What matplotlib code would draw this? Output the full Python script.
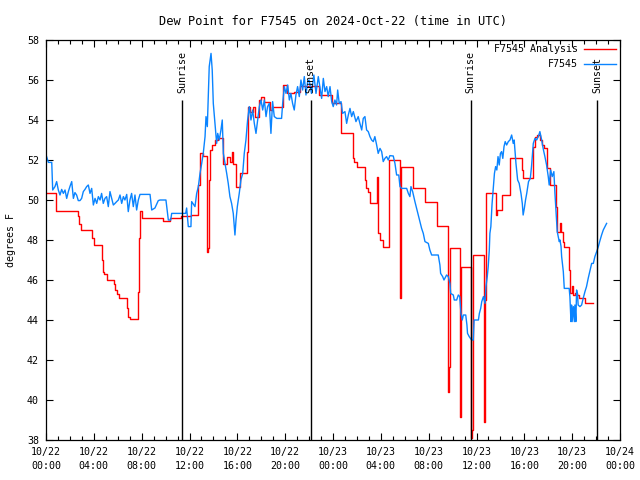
import pandas as pd
import matplotlib
matplotlib.use('Agg')
import matplotlib.pyplot as plt
import matplotlib.dates as mdates

plt.rcParams['font.family'] = ['DejaVu Sans Mono']
plt.rcParams['font.size'] = 7.2

day0 = pd.Timestamp('2024-10-22 00:00')

# F7545 Analysis: hours after 10/22 00:00 UTC, dew point (F)
anal_hours = [0.0, 0.8, 2.7, 2.8, 2.9, 3.85, 4.0, 4.72, 4.77, 4.85, 5.06, 5.69, 5.77, 5.94,
              6.1, 6.8, 6.88, 7.02, 7.73, 7.8, 7.88, 8.0, 9.8, 10.38, 11.3, 12.1, 12.74,
              12.88, 13.15, 13.44, 13.57, 13.65, 13.7, 13.85, 14.13, 14.4, 14.77, 14.83,
              15.1, 15.38, 15.53, 15.66, 15.86, 16.2, 16.78, 16.86, 16.9, 17.06, 17.28,
              17.47, 17.84, 17.95, 18.23, 18.73, 18.87, 19.84, 20.12, 20.7, 21.2, 22.85,
              23.9, 24.67, 25.7, 25.76, 25.98, 26.67, 26.76, 26.95, 27.1, 27.68, 27.73,
              27.78, 27.93, 28.15, 28.68, 29.6, 29.66, 30.7, 31.7, 32.7, 33.61, 33.7,
              33.82, 34.6, 34.67, 35.53, 35.62, 35.73, 36.62, 36.7, 36.79, 37.6, 37.75,
              38.1, 38.8, 39.78, 39.9, 40.75, 40.89, 41.05, 41.3, 41.44, 41.64, 41.86,
              42.14, 42.64, 42.7, 42.98, 43.05, 43.2, 43.34, 43.75, 43.81, 43.95, 44.03,
              44.23, 44.37, 44.59, 45.07, 45.71]
anal_dewp = [50.33, 49.47, 49.2, 48.8, 48.5, 48.1, 47.75, 47.0, 46.4, 46.3, 46.0, 45.8, 45.5, 45.3,
             45.08, 44.6, 44.17, 44.03, 45.4, 48.1, 49.47, 49.08, 48.97, 49.08, 49.2, 49.25, 50.75,
             52.37, 52.2, 47.4, 47.6, 51.0, 52.5, 52.75, 53.0, 53.08, 53.0, 51.8,
             52.17, 51.9, 52.4, 51.8, 50.67, 51.33, 52.42, 53.17, 54.67, 54.42, 54.67,
             54.17, 55.0, 55.17, 54.9, 54.5, 54.67, 55.75, 55.33, 55.42, 55.7, 55.25,
             54.83, 53.37, 52.08, 51.9, 51.67, 51.0, 50.6, 50.4, 49.83, 51.17, 51.0,
             48.35, 48.0, 47.67, 52.0, 45.1, 51.63, 50.62, 49.92, 48.7, 40.42, 41.67,
             47.58, 39.17, 46.67, 38.1, 38.5, 47.25, 38.9, 45.0, 50.37, 49.25, 49.5,
             50.25, 52.08, 51.5, 51.08, 52.67, 53.17, 53.25, 53.0, 52.75, 52.58, 51.58,
             50.75, 49.67, 48.42, 48.83, 48.42, 47.92, 47.67, 46.5, 45.33, 45.7, 45.25,
             45.33, 45.25, 45.08, 44.87, 44.87]

# F7545 observations
obs_hours = [0.05, 0.2, 0.48, 0.56, 0.75, 0.89, 1.03, 1.17, 1.31, 1.45, 1.59, 1.73, 1.87, 2.0,
             2.15, 2.29, 2.42, 2.56, 2.7, 2.84, 2.98, 3.12, 3.26, 3.4, 3.54, 3.68, 3.82, 3.96,
             4.1, 4.24, 4.38, 4.52, 4.65, 4.79, 4.93, 5.07, 5.21, 5.35, 5.49, 5.63, 5.77, 5.91,
             6.05, 6.19, 6.33, 6.47, 6.6, 6.75, 6.88, 7.02, 7.16, 7.3, 7.44, 7.58, 7.72, 7.86,
             8.7, 8.84, 9.11, 9.39, 9.53, 10.03, 10.23, 10.43, 10.51, 11.68, 11.76, 11.9, 12.12,
             12.18, 12.46, 12.6, 12.74, 12.88, 13.02, 13.15, 13.3, 13.38, 13.49, 13.57, 13.65,
             13.8, 13.9, 13.99, 14.13, 14.27, 14.36, 14.49, 14.63, 14.74, 14.83, 14.97, 15.11,
             15.24, 15.38, 15.52, 15.66, 15.8, 15.89, 16.0, 16.16, 16.3, 16.45, 16.58, 16.72,
             16.86, 17.0, 17.14, 17.28, 17.42, 17.56, 17.7, 17.84, 17.98, 18.12, 18.26, 18.4,
             18.53, 18.67, 18.81, 18.95, 19.09, 19.3, 19.7, 19.79, 19.93, 20.07, 20.21, 20.35,
             20.48, 20.62, 20.76, 20.9, 21.04, 21.18, 21.32, 21.46, 21.6, 21.74, 21.88, 22.0,
             22.2, 22.4, 22.58, 22.77, 22.9, 23.05, 23.19, 23.33, 23.47, 23.6, 23.75, 23.89,
             24.02, 24.16, 24.3, 24.39, 24.52, 24.67, 24.8, 25.0, 25.14, 25.28, 25.42, 25.56,
             25.7, 25.92, 26.11, 26.25, 26.4, 26.53, 26.67, 26.81, 26.95, 27.09, 27.23, 27.37,
             27.5, 27.65, 27.78, 27.93, 28.07, 28.2, 28.34, 28.48, 28.62, 28.76, 29.04, 29.18,
             29.32, 29.5, 29.6, 29.74, 30.16, 30.3, 30.43, 30.52, 30.66, 30.85, 30.99, 31.13,
             31.27, 31.41, 31.55, 31.69, 31.97, 32.1, 32.25, 32.8, 32.94, 33.0, 33.17, 33.28,
             33.5, 33.64, 33.78, 33.84, 34.06, 34.14, 34.34, 34.48, 34.6, 34.7, 34.81, 34.9,
             35.1, 35.2, 35.25, 35.39, 35.59, 35.73, 35.8, 36.16, 36.24, 36.35, 36.44, 36.58,
             36.71, 36.79, 36.9, 36.98, 37.07, 37.12, 37.2, 37.3, 37.4, 37.5, 37.6, 37.7, 37.8,
             37.9, 38.0, 38.1, 38.2, 38.3, 38.4, 38.52, 38.66, 38.8, 38.94, 39.07, 39.15, 39.3,
             39.44, 39.57, 39.72, 39.83, 39.9, 40.0, 40.1, 40.2, 40.35, 40.5, 40.6, 40.75, 40.89,
             41.03, 41.17, 41.3, 41.45, 41.6, 41.72, 41.86, 42.0, 42.08, 42.2, 42.33, 42.47,
             42.56, 42.64, 42.75, 42.92, 42.98, 43.07, 43.12, 43.26, 43.34, 43.75, 43.81, 43.9,
             43.95, 44.0, 44.1, 44.18, 44.23, 44.31, 44.37, 44.45, 44.5, 44.65, 44.79, 44.92,
             45.07, 45.2, 45.34, 45.5, 45.63, 45.77, 45.9, 46.05, 46.19, 46.3, 46.46, 46.6,
             46.74, 46.88]
obs_dewp = [52.17, 51.88, 51.88, 50.5, 50.67, 50.92, 50.5, 50.25, 50.53, 50.33, 50.5, 50.08, 50.42, 50.67,
            50.92, 50.08, 50.37, 50.25, 49.97, 49.97, 50.08, 50.42, 50.53, 50.67, 50.75, 50.33, 50.58, 49.75,
            50.08, 49.83, 50.17, 50.0, 50.33, 49.83, 50.08, 50.17, 49.67, 50.42, 50.08, 49.75, 49.83, 49.92,
            50.0, 50.25, 49.83, 50.17, 50.0, 50.28, 49.42, 50.0, 50.33, 49.67, 50.25, 49.5, 50.0, 50.28,
            50.28, 49.5, 49.6, 49.97, 50.0, 50.0, 49.0, 49.0, 49.33, 49.33, 49.6, 48.67, 48.67,
            49.92, 49.67, 50.33, 50.67, 51.33, 51.83, 52.33, 53.17, 54.17, 53.67, 55.17, 56.67,
            57.33, 56.5, 54.83, 53.83, 52.83, 53.33, 53.0, 53.5, 54.0, 52.33, 51.83, 51.33,
            50.83, 50.17, 49.83, 49.33, 48.25, 49.0, 49.67, 50.33, 51.0, 51.33, 52.33, 53.0,
            54.0, 54.67, 54.0, 54.5, 53.83, 53.33, 54.0, 54.67, 55.0, 54.5, 55.0, 54.17,
            54.67, 54.83, 53.33, 54.92, 54.17, 54.08, 54.08, 54.83, 55.67, 55.33, 55.75, 55.0,
            55.33, 54.83, 54.5, 55.25, 55.67, 55.17, 56.0, 55.5, 56.17, 55.25, 55.92, 56.0,
            55.33, 56.25, 55.33, 56.17, 55.67, 55.08, 56.08, 55.42, 55.67, 55.17, 55.67, 54.92,
            54.67, 55.0, 54.75, 55.5, 54.83, 54.92, 54.33, 54.42, 53.83, 54.25, 54.58, 54.17,
            54.42, 53.92, 54.17, 53.83, 53.5, 54.08, 54.17, 53.5, 53.42, 53.17, 53.0, 52.92,
            53.17, 52.75, 52.33, 52.58, 52.42, 51.92, 52.08, 52.17, 52.0, 52.22, 52.2, 51.83,
            51.25, 51.25, 50.67, 50.58, 50.58, 50.33, 50.17, 50.67, 50.42, 49.92, 49.58, 49.25,
            48.92, 48.58, 48.33, 47.92, 47.83, 47.5, 47.25, 47.25, 46.75, 46.33, 46.17, 46.0,
            46.25, 46.17, 45.83, 45.33, 45.25, 45.0, 45.0, 45.25, 45.17, 44.33, 44.0, 44.25,
            44.25, 43.75, 43.33, 43.17, 43.0, 43.0, 44.0, 44.0, 44.33, 44.58, 44.92, 45.17,
            44.83, 45.67, 46.17, 46.67, 47.5, 48.33, 48.67, 49.8, 50.6, 51.33, 51.67, 51.5, 52.17,
            51.75, 52.33, 52.42, 52.08, 52.67, 52.92, 52.75, 52.92, 53.0, 53.25, 52.83, 53.0, 51.83,
            51.0, 50.83, 50.33, 49.83, 49.25, 49.58, 50.0, 50.33, 50.92, 51.08, 51.67, 52.83, 53.08,
            53.0, 53.17, 53.42, 53.0, 52.5, 52.17, 51.75, 51.17, 50.75, 51.5, 51.17, 51.42,
            50.33, 49.5, 48.42, 47.92, 48.0, 47.67, 47.17, 46.42, 45.58, 45.58, 45.17, 43.92,
            44.75, 43.92, 44.67, 43.92, 44.75, 43.92, 45.5, 45.25, 44.75, 44.67, 44.75, 45.08,
            45.42, 45.67, 46.08, 46.5, 46.83, 46.83, 47.17, 47.42, 47.67, 47.92, 48.25, 48.5,
            48.67, 48.83]

sun_hours = [11.4, 22.12, 35.5, 46.1]
sun_labels = ['Sunrise', 'Sunset', 'Sunrise', 'Sunset']


def to_time(h):
    return day0 + pd.to_timedelta(h, unit='h')


fig, ax = plt.subplots(figsize=(6.4, 4.8), dpi=100)
fig.subplots_adjust(left=46/640, right=620/640, bottom=40/480, top=440/480)

ax.plot(to_time(anal_hours), anal_dewp, color='#ff0000', lw=1,
        drawstyle='steps-post', label='F7545 Analysis')
ax.plot(to_time(obs_hours), obs_dewp, color='#0a84ff', lw=1, label='F7545')

# sunrise / sunset markers
ax.vlines(to_time(sun_hours), 38, 55, color='black', lw=1)
for h, lab in zip(sun_hours, sun_labels):
    ax.text(to_time(h), 55.35, lab, rotation=90, ha='center', va='bottom')

ax.set_xlim(to_time(0), to_time(48))
ax.set_ylim(38, 58)
ax.set_yticks(range(38, 59, 2))
ax.xaxis.set_major_locator(mdates.HourLocator(byhour=range(0, 24, 4)))
ax.xaxis.set_minor_locator(mdates.HourLocator())
ax.xaxis.set_major_formatter(mdates.DateFormatter('%m/%d\n%H:%M'))
ax.tick_params(which='both', direction='in', top=True, right=True, width=0.8)
ax.tick_params(which='major', length=5, pad=5)
ax.tick_params(which='minor', length=3)
for s in ax.spines.values():
    s.set_linewidth(0.9)

ax.set_ylabel('degrees F', labelpad=8)
ax.set_title('Dew Point for F7545 on 2024-Oct-22 (time in UTC)', pad=11)

ax.legend(loc='upper right', frameon=False, markerfirst=False, handlelength=3.2,
          handletextpad=0.6, labelspacing=0.45, borderaxespad=0.05)

fig.canvas.draw()
for lab in ax.get_xticklabels():
    lab.set_linespacing(1.45)

fig.savefig('out.png', dpi=100)
